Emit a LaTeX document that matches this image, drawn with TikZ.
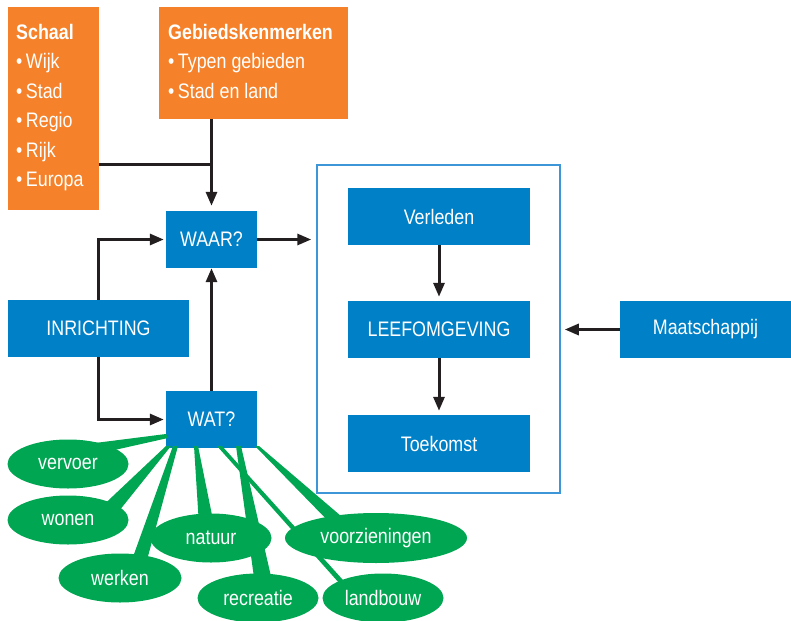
\documentclass[tikz,border=0pt]{standalone}
\usepackage{fontspec}
\setmainfont{Liberation Sans}[FakeStretch=0.85]
\usetikzlibrary{arrows.meta,shapes.geometric}
\definecolor{orng}{RGB}{245,130,42}
\definecolor{blu}{RGB}{0,128,198}
\definecolor{grn}{RGB}{0,166,81}
\definecolor{framecol}{RGB}{60,150,215}
\definecolor{ink}{RGB}{35,31,32}
\begin{document}
\begin{tikzpicture}[x=1pt,y=-1pt,
  txt/.style={font=\fontsize{21}{29.5}\selectfont},
  orangebox/.style={fill=orng, draw=none, inner sep=0pt, anchor=north west},
  listtext/.style={txt, text=white, align=left, inner sep=0pt, anchor=north west},
  bluebox/.style={txt, fill=blu, text=white, draw=none, inner sep=0pt, minimum height=57pt},
  greenell/.style={txt, ellipse, fill=grn, text=white, draw=none, inner sep=0pt, minimum width=121pt, minimum height=49pt},
  framebox/.style={draw=framecol, line width=1.5pt, fill=none, inner sep=0pt},
  link/.style={draw=ink, line width=3pt},
  arrow/.style={link, -{Triangle[length=14pt,width=11pt]}},
  wedge/.style={fill=grn}
]
\useasboundingbox (0,0) rectangle (791,620);

% scale and area characteristics
\node[orangebox, minimum width=91pt, minimum height=203pt] (schaal) at (8,7) {};
\node[listtext] (schaaltxt) at (16,24) {\textbf{Schaal}\\•\,Wijk\\•\,Stad\\•\,Regio\\•\,Rijk\\•\,Europa};
\node[orangebox, minimum width=189pt, minimum height=112pt] (gebied) at (159,7) {};
\node[listtext] (gebiedtxt) at (168,24) {\textbf{Gebiedskenmerken}\\•\,Typen gebieden\\•\,Stad en land};

% question boxes
\node[bluebox, minimum width=91pt] (waar) at (211.5,239.5) {WAAR?};
\node[bluebox, minimum width=91pt] (wat) at (211.5,419.5) {WAT?};
\node[bluebox, minimum width=181pt] (inr) at (98.5,328.5) {INRICHTING};

% living environment block
\node[framebox, minimum width=243pt, minimum height=328pt] (frame) at (438.5,329) {};
\node[bluebox, minimum width=182pt] (verl) at (439,216.5) {Verleden};
\node[bluebox, minimum width=182pt] (leef) at (439,329.5) {LEEFOMGEVING};
\node[bluebox, minimum width=182pt] (toek) at (439,443.5) {Toekomst};
\node[bluebox, minimum width=171pt] (maat) at (705.5,329.5) {Maatschappij};

% pointers from WAT? to the themes
\fill[wedge] (166,434) -- (95,443) -- (110,451) -- (168,438) -- cycle;
\fill[wedge] (166,446) -- (95,513) -- (115,516) -- (171,446) -- cycle;
\fill[wedge] (173,446) -- (129,568) -- (144,571) -- (178,446) -- cycle;
\fill[wedge] (194,446) -- (199,525) -- (214,525) -- (198,446) -- cycle;
\fill[wedge] (217,446) -- (340,584) -- (352,590) -- (222,446) -- cycle;
\fill[wedge] (236,446) -- (255,585) -- (273,585) -- (241,446) -- cycle;
\fill[wedge] (255,446) -- (335,528) -- (355,528) -- (259,446) -- cycle;

% themes
\node[greenell] (vervoer) at (68,464) {vervoer};
\node[greenell] (wonen) at (68,520) {wonen};
\node[greenell, minimum width=123pt] (werken) at (120,578) {werken};
\node[greenell] (natuur) at (211,538) {natuur};
\node[greenell] (recreatie) at (258,598) {recreatie};
\node[greenell] (landbouw) at (383,598) {landbouw};
\node[greenell, minimum width=182pt, minimum height=50pt] (voorz) at (376,538) {voorzieningen};

% connectors
\coordinate (join) at (waar.north |- 0,165);
\draw[link] (schaal.east |- join) -- (join);
\draw[arrow, shorten >=5pt] (waar.north |- gebied.south) -- (waar.north);
\draw[arrow, shorten >=5pt] (waar.east) -- (waar.east -| frame.west);
\draw[arrow, shorten >=2pt] (inr.north) |- (waar.west);
\draw[arrow, shorten >=2pt] (inr.south) |- (wat.west);
\draw[arrow] (wat.north) -- (waar.south);
\draw[arrow, shorten >=4pt] (verl) -- (leef);
\draw[arrow, shorten >=4pt] (leef) -- (toek);
\draw[arrow, shorten >=4pt] (maat.west) -- (maat.west -| frame.east);
\end{tikzpicture}
\end{document}
